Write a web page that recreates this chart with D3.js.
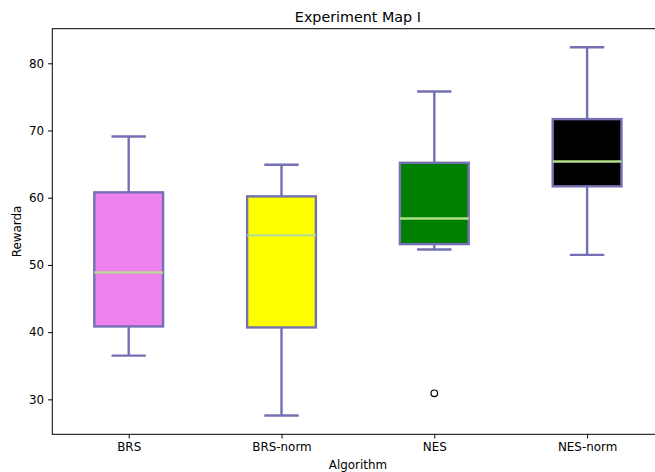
<!DOCTYPE html>
<html>
<head>
<meta charset="utf-8">
<script src="https://cdn.jsdelivr.net/npm/d3@7"></script>
<style>
  body { margin: 0; background: #fff; }
  svg { display: block; font-family: "DejaVu Sans", sans-serif; }
</style>
</head>
<body>
<script>
// values
var algorithms = ["BRS", "BRS-norm", "NES", "NES-norm"];
var whiskerLow  = [36.5, 27.6, 52.3, 51.5];
var q1          = [40.85, 40.7, 53.1, 61.7];
var medians     = [48.9, 54.4, 56.9, 65.4];
var q3          = [60.8, 60.2, 65.2, 71.7];
var whiskerHigh = [69.1, 64.9, 75.8, 82.4];
var outliers    = [[], [], [30.9], []];
var fills       = ["violet", "yellow", "green", "black"];
var yTicks      = [30, 40, 50, 60, 70, 80];

var W = 655, H = 472;
// plot area (right spine falls just outside the picture)
var pLeft = 52.3, pRight = 663.5, pTop = 28.7, pBottom = 434.3;
var edge = "#7570b3", medColor = "#b2df8a";

var svg = d3.select("body").append("svg")
    .attr("width", W)
    .attr("height", H);

var x = d3.scaleLinear().domain([0.5, 4.5]).range([pLeft, pRight]);
var y = d3.scaleLinear().domain([24.8, 85.15]).range([pBottom, pTop]);

var data = algorithms.map(function(a, i){
    return {name: a, pos: i + 1, lo: whiskerLow[i], q1: q1[i], med: medians[i],
            q3: q3[i], hi: whiskerHigh[i], out: outliers[i], fill: fills[i]};
});

var boxW = 0.45, capW = 0.225;

var g = svg.selectAll("g.box")
    .data(data)
    .enter()
    .append("g")
    .attr("class", "box");

// whiskers
g.append("line")
    .attr("x1", function(d){return x(d.pos)})
    .attr("x2", function(d){return x(d.pos)})
    .attr("y1", function(d){return y(d.q1)})
    .attr("y2", function(d){return y(d.lo)})
    .attr("stroke", edge).attr("stroke-width", 2.4);
g.append("line")
    .attr("x1", function(d){return x(d.pos)})
    .attr("x2", function(d){return x(d.pos)})
    .attr("y1", function(d){return y(d.q3)})
    .attr("y2", function(d){return y(d.hi)})
    .attr("stroke", edge).attr("stroke-width", 2.4);

// caps
["lo", "hi"].forEach(function(k){
    g.append("line")
        .attr("x1", function(d){return x(d.pos - capW / 2)})
        .attr("x2", function(d){return x(d.pos + capW / 2)})
        .attr("y1", function(d){return y(d[k])})
        .attr("y2", function(d){return y(d[k])})
        .attr("stroke", edge).attr("stroke-width", 2.4);
});

// boxes
g.append("rect")
    .attr("x", function(d){return x(d.pos - boxW / 2)})
    .attr("width", function(d){return x(d.pos + boxW / 2) - x(d.pos - boxW / 2)})
    .attr("y", function(d){return y(d.q3)})
    .attr("height", function(d){return y(d.q1) - y(d.q3)})
    .attr("fill", function(d){return d.fill})
    .attr("stroke", edge).attr("stroke-width", 2.4);

// medians
g.append("line")
    .attr("x1", function(d){return x(d.pos - boxW / 2)})
    .attr("x2", function(d){return x(d.pos + boxW / 2)})
    .attr("y1", function(d){return y(d.med)})
    .attr("y2", function(d){return y(d.med)})
    .attr("stroke", medColor).attr("stroke-width", 2.4);

// fliers
g.selectAll("circle")
    .data(function(d){return d.out.map(function(v){return {pos: d.pos, v: v}})})
    .enter()
    .append("circle")
    .attr("cx", function(d){return x(d.pos)})
    .attr("cy", function(d){return y(d.v)})
    .attr("r", 3.3)
    .attr("fill", "none")
    .attr("stroke", "black")
    .attr("stroke-width", 1.2);

// axes
var yAxis = d3.axisLeft(y).tickValues(yTicks).tickSize(4.2).tickPadding(4);
var xAxis = d3.axisBottom(x).tickValues([1, 2, 3, 4])
    .tickFormat(function(d){return algorithms[d - 1]})
    .tickSize(4.2).tickPadding(4);

var ya = svg.append("g").attr("transform", "translate(" + pLeft + ",0)").call(yAxis);
var xa = svg.append("g").attr("transform", "translate(0," + pBottom + ")").call(xAxis);
[ya, xa].forEach(function(a){
    a.select(".domain").remove();
    a.selectAll("line").attr("stroke", "black").attr("stroke-width", 1);
    a.selectAll("text").attr("font-size", 11.9).attr("fill", "black")
        .attr("font-family", "DejaVu Sans");
});

// spines
svg.append("rect")
    .attr("x", pLeft).attr("y", pTop)
    .attr("width", pRight - pLeft).attr("height", pBottom - pTop)
    .attr("fill", "none").attr("stroke", "black").attr("stroke-width", 1);

svg.append("text")
    .attr("x", (pLeft + pRight) / 2).attr("y", pTop - 7)
    .attr("text-anchor", "middle")
    .attr("font-size", 14.3)
    .text("Experiment Map I");

svg.append("text")
    .attr("x", (pLeft + pRight) / 2).attr("y", 469)
    .attr("text-anchor", "middle")
    .attr("font-size", 11.9)
    .text("Algorithm");

svg.append("text")
    .attr("transform", "translate(21," + (pTop + pBottom) / 2 + ") rotate(-90)")
    .attr("text-anchor", "middle")
    .attr("font-size", 11.9)
    .text("Rewarda");
</script>
</body>
</html>
